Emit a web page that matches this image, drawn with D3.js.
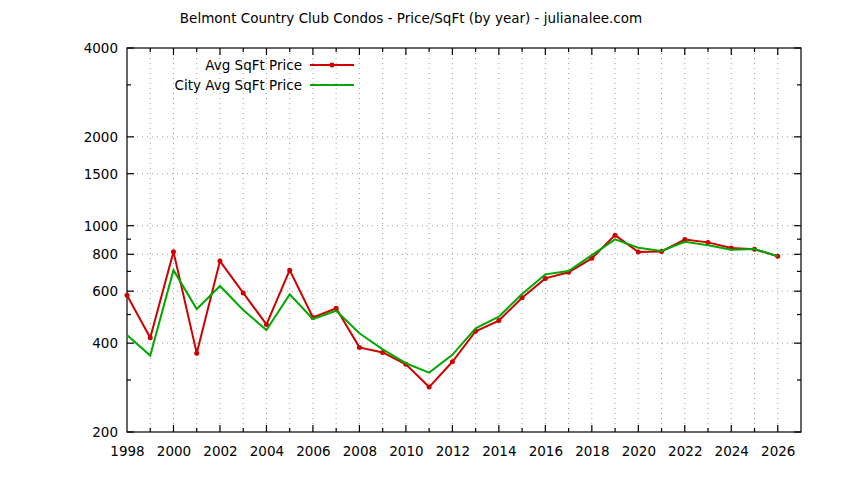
<!DOCTYPE html>
<html lang="en">
<head>
<meta charset="utf-8">
<title>Belmont Country Club Condos - Price/SqFt</title>
<style>
html,body{margin:0;padding:0;background:#fff;}
svg{display:block;font-family:"DejaVu Sans",sans-serif;}
.grid line{stroke:#a0a0a0;stroke-width:1;stroke-dasharray:1,4;}
</style>
</head>
<body>
<div id="chart"></div>
<script src="https://cdn.jsdelivr.net/npm/d3@7"></script>
<script>
/* ---------- data ---------- */
const years = d3.range(1998, 2027);
const avgPrice = [581,417,816,370,759,592,463,707,489,525,387,372,339,284,346,439,477,570,663,695,775,929,814,818,898,878,840,832,788];
const cityPrice = [426,363,707,522,625,518,443,585,483,515,432,381,342,318,365,449,492,587,684,702,795,899,842,821,882,858,829,834,788];
const yMajor = [200,400,600,800,1000,1500,2000,4000];
const yMinor = [300,500,700,900,3000];
const xLabels = d3.range(1998, 2027, 2);
const seriesNames = ['Avg SqFt Price','City Avg SqFt Price'];

/* ---------- layout ---------- */
const W = 844, H = 480;
const m = {left:127, right:801, top:48, bottom:432};
const x = d3.scaleLinear().domain([1998, 2027]).range([m.left, m.right]);
const y = d3.scaleLog().domain([200, 4000]).range([m.bottom, m.top]);

const svg = d3.select('#chart').append('svg').attr('width', W).attr('height', H);

svg.append('text').attr('x', 411).attr('y', 23).attr('text-anchor', 'middle')
  .attr('font-size', 13.5).attr('fill', '#000')
  .text('Belmont Country Club Condos - Price/SqFt (by year) - julianalee.com');

// grid
const grid = svg.append('g').attr('class', 'grid');
grid.selectAll('line.v').data(years.slice(1)).join('line')
  .attr('x1', d => x(d)).attr('x2', d => x(d)).attr('y1', m.top).attr('y2', m.bottom);
grid.selectAll('line.h').data(yMajor.filter(v => v > 200 && v < 4000)).join('line')
  .attr('class', 'h')
  .attr('x1', m.left).attr('x2', m.right).attr('y1', d => y(d)).attr('y2', d => y(d));

// axes (gnuplot style: ticks inside, mirrored)
const fmt = d3.format('d');
const axB = d3.axisBottom(x).tickValues(xLabels).tickFormat(fmt).tickSize(0).tickPadding(14);
const axL = d3.axisLeft(y).tickValues(yMajor).tickFormat(fmt).tickSize(0).tickPadding(9);
svg.append('g').attr('transform', `translate(0,${m.bottom})`).call(axB)
  .call(g => g.select('.domain').remove())
  .selectAll('text').attr('font-size', 13.5).attr('font-family', '"DejaVu Sans",sans-serif').attr('fill', '#000');
svg.append('g').attr('transform', `translate(${m.left},0)`).call(axL)
  .call(g => g.select('.domain').remove())
  .selectAll('text').attr('font-size', 13.5).attr('font-family', '"DejaVu Sans",sans-serif').attr('fill', '#000');

const ticks = svg.append('g').attr('stroke', '#000').attr('stroke-width', 1.2);
years.slice(1).forEach(yr => {
  const len = yr % 2 === 0 ? 7 : 4;
  ticks.append('line').attr('x1', x(yr)).attr('x2', x(yr)).attr('y1', m.bottom).attr('y2', m.bottom - len);
  ticks.append('line').attr('x1', x(yr)).attr('x2', x(yr)).attr('y1', m.top).attr('y2', m.top + len);
});
yMajor.concat(yMinor).forEach(v => {
  const len = yMajor.includes(v) ? 7 : 4;
  ticks.append('line').attr('x1', m.left).attr('x2', m.left + len).attr('y1', y(v)).attr('y2', y(v));
  ticks.append('line').attr('x1', m.right).attr('x2', m.right - len).attr('y1', y(v)).attr('y2', y(v));
});
svg.append('rect').attr('x', m.left).attr('y', m.top)
  .attr('width', m.right - m.left).attr('height', m.bottom - m.top)
  .attr('fill', 'none').attr('stroke', '#000').attr('stroke-width', 1.2);

// lines
const line = d3.line().x((d, i) => x(years[i])).y(d => y(d));
svg.append('path').datum(avgPrice).attr('d', line)
  .attr('fill', 'none').attr('stroke', '#d00000').attr('stroke-width', 2);
svg.append('g').selectAll('circle').data(avgPrice).join('circle')
  .attr('cx', (d, i) => x(years[i])).attr('cy', d => y(d)).attr('r', 2.5).attr('fill', '#d00000');
svg.append('path').datum(cityPrice).attr('d', line)
  .attr('fill', 'none').attr('stroke', '#00a800').attr('stroke-width', 2);

// legend
const colors = ['#d00000', '#00a800'];
seriesNames.forEach((name, i) => {
  const ly = 65 + i * 20;
  svg.append('text').attr('x', 302).attr('y', ly).attr('dy', '0.35em')
    .attr('text-anchor', 'end').attr('font-size', 13.5).text(name);
  svg.append('line').attr('x1', 310).attr('x2', 354).attr('y1', ly).attr('y2', ly)
    .attr('stroke', colors[i]).attr('stroke-width', 2);
  if (i === 0) svg.append('circle').attr('cx', 332).attr('cy', ly).attr('r', 2.5).attr('fill', colors[i]);
});
</script>
</body>
</html>
